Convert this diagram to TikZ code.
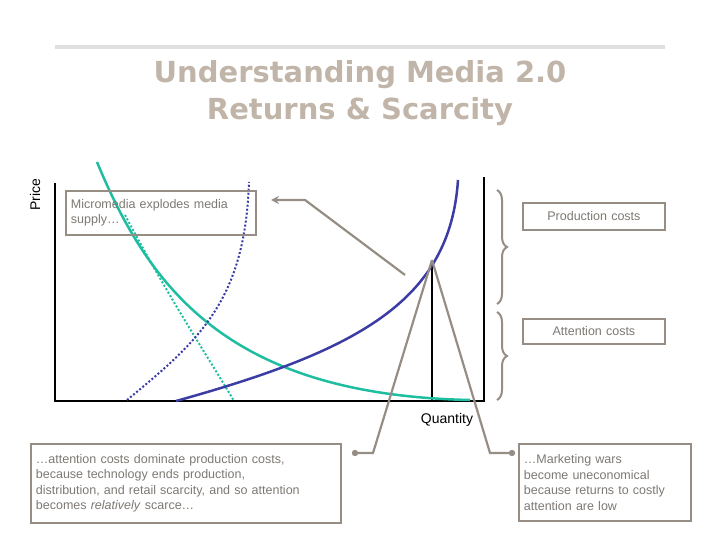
\documentclass[tikz,border=0pt]{standalone}
\usepackage{fontspec}
\setmainfont{Liberation Sans}
\newfontfamily\ttlfont{DejaVu Sans}
\usetikzlibrary{decorations.pathreplacing,arrows.meta}
\definecolor{teal1}{RGB}{32,190,160}
\definecolor{blu}{RGB}{60,60,165}
\definecolor{gbox}{RGB}{150,142,132}
\definecolor{gtxt}{RGB}{125,120,115}
\definecolor{ttl}{RGB}{192,181,168}
\begin{document}
\begin{tikzpicture}[x=1pt,y=-1pt,
  box/.style={draw=gbox,line width=1.8pt,text=gtxt,font=\fontsize{12.5}{15.5}\selectfont,inner sep=5pt,anchor=north west,align=left},
  conn/.style={draw=gbox,line width=2.2pt},
  br/.style={draw=gbox,line width=2pt,decorate,decoration={brace,amplitude=10pt}}]
\useasboundingbox (0,0) rectangle (720,540);
\draw[draw=black!12,line width=4pt] (55,47) -- (665,47);
\node[text=ttl,font=\ttlfont\bfseries\fontsize{29}{37}\selectfont,align=center] (title) at (360,93) {Understanding Media 2.0\\Returns \& Scarcity};
\node[rotate=90,font=\fontsize{14}{16}\selectfont] (price) at (35,195) {Price};
% axes
\coordinate (o) at (55,401);
\draw[line width=2pt] (55,183) -- (o) -- (484,401) -- (484,177);
\coordinate (eq) at (432,260);
\draw[line width=1.3pt] (eq) -- (432,401);
% curves
\draw[teal1,line width=2.5pt] (97,162) .. controls (150,290) and (230,395) .. (470,400);
\draw[teal1,line width=2pt,dotted] (125,215) .. controls (170,300) and (210,360) .. (234,401);
\draw[blu,line width=2.5pt] (176,401) .. controls (360,350) and (450,300) .. (458,180);
\draw[blu,line width=2pt,dotted] (127,400) .. controls (200,340) and (245,300) .. (249,182);
% boxes
\node[box,text width=180pt,minimum height=44pt] (micro) at (65,190) {Micromedia explodes media\\supply…};
\node[box,text width=132pt,align=center,minimum height=27pt] (prod) at (522,202) {Production costs};
\node[box,text width=132pt,align=center,minimum height=25pt] (att) at (522,318) {Attention costs};
\node[box,text width=300pt,minimum height=79pt] (left) at (30,443) {…attention costs dominate production costs,\\because technology ends production,\\distribution, and retail scarcity, and so attention\\becomes \textit{relatively} scarce…};
\node[box,text width=162pt,minimum height=77pt] (right) at (518,443) {…Marketing wars\\become uneconomical\\because returns to costly\\attention are low};
\node[font=\fontsize{14}{16}\selectfont] (qty) at (447,420) {Quantity};
% braces
\draw[br] (497,190) -- (497,304);
\draw[br] (497,312) -- (497,400);
% connectors
\coordinate (a1) at (405,275);
\coordinate (a2) at (305,200);
\coordinate (a3) at (271,200);
\draw[conn,-{Stealth[length=8pt,width=8pt]}] (a1) -- (a2) -- (a3);
\coordinate (l1) at (373,453);
\coordinate (l2) at (355,453);
\coordinate (r1) at (490,453);
\coordinate (r2) at (512,453);
\draw[conn] (eq) -- (l1) -- (l2);
\draw[conn] (eq) -- (r1) -- (r2);
\fill[gbox] (l2) circle (3.2pt) (r2) circle (3.2pt);
\end{tikzpicture}
\end{document}
